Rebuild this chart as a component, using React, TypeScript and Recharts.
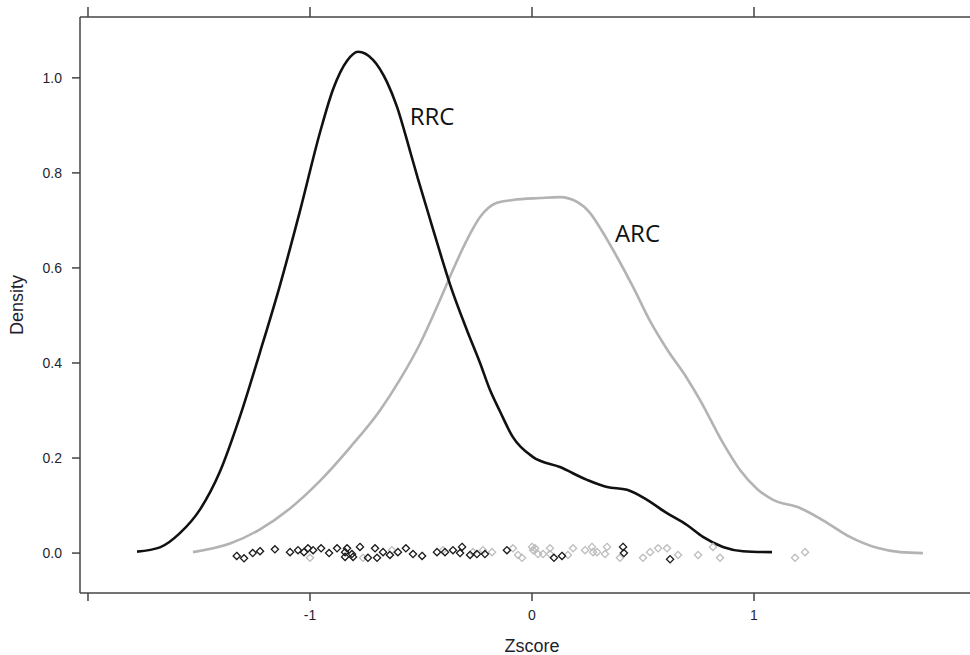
import React from 'react';
import { ComposedChart, Line, Scatter, XAxis, YAxis, ReferenceDot } from 'recharts';

// Density curves (z-score vs density)
const rrcZ = [-1.779, -1.676, -1.586, -1.495, -1.405, -1.315, -1.225, -1.135, -1.045, -0.955, -0.896, -0.833, -0.784, -0.716, -0.653, -0.608, -0.55, -0.514, -0.473, -0.414, -0.369, -0.293, -0.234, -0.189, -0.144, -0.086, 0.005, 0.126, 0.248, 0.338, 0.428, 0.518, 0.608, 0.698, 0.77, 0.86, 0.95, 1.081];
const rrcDensity = [0.003, 0.012, 0.042, 0.092, 0.172, 0.288, 0.423, 0.564, 0.72, 0.885, 0.976, 1.036, 1.055, 1.038, 0.991, 0.939, 0.847, 0.788, 0.724, 0.632, 0.565, 0.469, 0.4, 0.343, 0.298, 0.244, 0.202, 0.181, 0.154, 0.139, 0.133, 0.112, 0.084, 0.059, 0.034, 0.013, 0.004, 0.002];

const arcZ = [-1.527, -1.36, -1.225, -1.09, -0.955, -0.82, -0.685, -0.595, -0.505, -0.414, -0.356, -0.293, -0.234, -0.158, -0.086, 0.036, 0.126, 0.203, 0.261, 0.32, 0.383, 0.455, 0.532, 0.608, 0.698, 0.757, 0.86, 0.937, 1.014, 1.086, 1.207, 1.311, 1.432, 1.554, 1.658, 1.761];
const arcDensity = [0.002, 0.02, 0.05, 0.094, 0.152, 0.222, 0.3, 0.365, 0.44, 0.533, 0.596, 0.659, 0.707, 0.737, 0.743, 0.747, 0.749, 0.739, 0.716, 0.674, 0.623, 0.56, 0.488, 0.429, 0.368, 0.322, 0.232, 0.175, 0.135, 0.112, 0.095, 0.069, 0.034, 0.011, 0.002, 0.0];

// Jittered rug points under the curves
const rrcRugZ = [-1.33, -1.297, -1.258, -1.225, -1.158, -1.09, -1.054, -1.027, -1.009, -0.986, -0.95, -0.914, -0.878, -0.842, -0.833, -0.811, -0.806, -0.842, -0.775, -0.739, -0.707, -0.698, -0.671, -0.64, -0.604, -0.568, -0.536, -0.495, -0.428, -0.392, -0.356, -0.324, -0.315, -0.279, -0.248, -0.212, -0.113, 0.099, 0.135, 0.41, 0.414, 0.622];
const rrcRugJitter = [-0.006, -0.011, 0.0, 0.004, 0.008, 0.002, 0.006, 0.002, 0.01, 0.006, 0.01, 0.0, 0.01, 0.002, 0.01, -0.002, -0.008, -0.008, 0.013, -0.01, 0.01, -0.01, 0.002, -0.004, 0.002, 0.01, -0.002, -0.006, 0.002, 0.002, 0.006, 0.0, 0.013, -0.004, -0.002, -0.002, 0.006, -0.01, -0.006, 0.013, 0.0, -0.013];

const arcRugZ = [-1.0, -0.761, -0.631, -0.401, -0.266, -0.221, -0.18, -0.086, -0.063, -0.045, 0.0, 0.005, 0.014, 0.027, 0.05, 0.081, 0.081, 0.162, 0.185, 0.239, 0.27, 0.275, 0.293, 0.329, 0.338, 0.396, 0.5, 0.532, 0.568, 0.608, 0.658, 0.748, 0.815, 0.847, 1.185, 1.23];
const arcRugJitter = [-0.01, -0.01, 0.006, 0.006, 0.002, 0.006, 0.002, 0.01, -0.004, -0.01, 0.013, 0.006, 0.01, -0.002, -0.002, 0.01, -0.002, -0.004, 0.01, 0.006, 0.013, 0.002, 0.002, -0.002, 0.013, -0.01, -0.01, 0.002, 0.01, 0.01, -0.004, -0.004, 0.013, -0.01, -0.01, 0.002];

const xTicks = [-2, -1, 0, 1, 2];
const xLabelled = [-1, 0, 1];
const yTicks = [0, 0.2, 0.4, 0.6, 0.8, 1.0];

const toPoints = (zs: number[], ds: number[]) => zs.map((z, i) => ({ z, d: ds[i] }));

const rrcData = toPoints(rrcZ, rrcDensity);
const arcData = toPoints(arcZ, arcDensity);
const rrcRug = toPoints(rrcRugZ, rrcRugJitter);
const arcRug = toPoints(arcRugZ, arcRugJitter);

const frame = '#444444';
const textColor = '#1f1f2e';
const tickFont = { fontFamily: 'Liberation Sans, Arial, sans-serif', fontSize: 14, fill: textColor };

// open diamond used for the rug
const diamond = (color: string) => (props: any) => {
  const { cx, cy } = props;
  const h = 3.6;
  return (
    <path
      d={`M${cx},${cy - h}L${cx + h},${cy}L${cx},${cy + h}L${cx - h},${cy}Z`}
      fill="none"
      stroke={color}
      strokeWidth={1.3}
    />
  );
};

const App: React.FC = () => {
  return (
    <div style={{ position: 'absolute', left: 0, top: 0, width: 970, height: 655, overflow: 'hidden', background: '#fff' }}>
      <ComposedChart width={986} height={655} margin={{ top: 0, right: 2, bottom: 0, left: 0 }}>
        <XAxis
          xAxisId="top"
          orientation="top"
          dataKey="z"
          type="number"
          domain={[-2.036, 2.036]}
          ticks={xTicks}
          tickFormatter={() => ''}
          height={17}
          tickSize={10}
          stroke={frame}
          strokeWidth={1.5}
          allowDataOverflow
        />
        <XAxis
          dataKey="z"
          type="number"
          domain={[-2.036, 2.036]}
          ticks={xTicks}
          tickFormatter={(v: number) => (xLabelled.includes(v) ? String(v) : '')}
          height={62}
          tickSize={8}
          tickMargin={9}
          stroke={frame}
          strokeWidth={1.5}
          tick={tickFont}
          allowDataOverflow
          label={{ value: 'Zscore', position: 'insideBottom', offset: 3, fontSize: 18, fill: textColor, fontFamily: 'Liberation Sans, Arial, sans-serif' }}
        />
        <YAxis
          dataKey="d"
          type="number"
          domain={[-0.084, 1.128]}
          ticks={yTicks}
          tickFormatter={(v: number) => v.toFixed(1)}
          width={80}
          tickSize={8}
          tickMargin={10}
          stroke={frame}
          strokeWidth={1.5}
          tick={tickFont}
          allowDataOverflow
          label={{ value: 'Density', angle: -90, position: 'insideLeft', offset: 17, fontSize: 18, fill: textColor, fontFamily: 'Liberation Sans, Arial, sans-serif', style: { textAnchor: 'middle' } }}
        />
        <Line data={arcData} dataKey="d" type="monotone" stroke="#b3b3b3" strokeWidth={2.6} dot={false} activeDot={false} isAnimationActive={false} />
        <Line data={rrcData} dataKey="d" type="monotone" stroke="#111111" strokeWidth={2.6} dot={false} activeDot={false} isAnimationActive={false} />
        <Scatter data={arcRug} dataKey="d" shape={diamond('#bdbdbd')} isAnimationActive={false} />
        <Scatter data={rrcRug} dataKey="d" shape={diamond('#1a1a1a')} isAnimationActive={false} />
        <ReferenceDot
          x={-0.45}
          y={0.918}
          r={0}
          fill="none"
          stroke="none"
          label={{ value: 'RRC', position: 'center', fontSize: 24, fill: '#111', fontFamily: 'Open Sans, sans-serif' }}
        />
        <ReferenceDot
          x={0.475}
          y={0.673}
          r={0}
          fill="none"
          stroke="none"
          label={{ value: 'ARC', position: 'center', fontSize: 24, fill: '#111', fontFamily: 'Open Sans, sans-serif' }}
        />
      </ComposedChart>
    </div>
  );
};

export default App;
